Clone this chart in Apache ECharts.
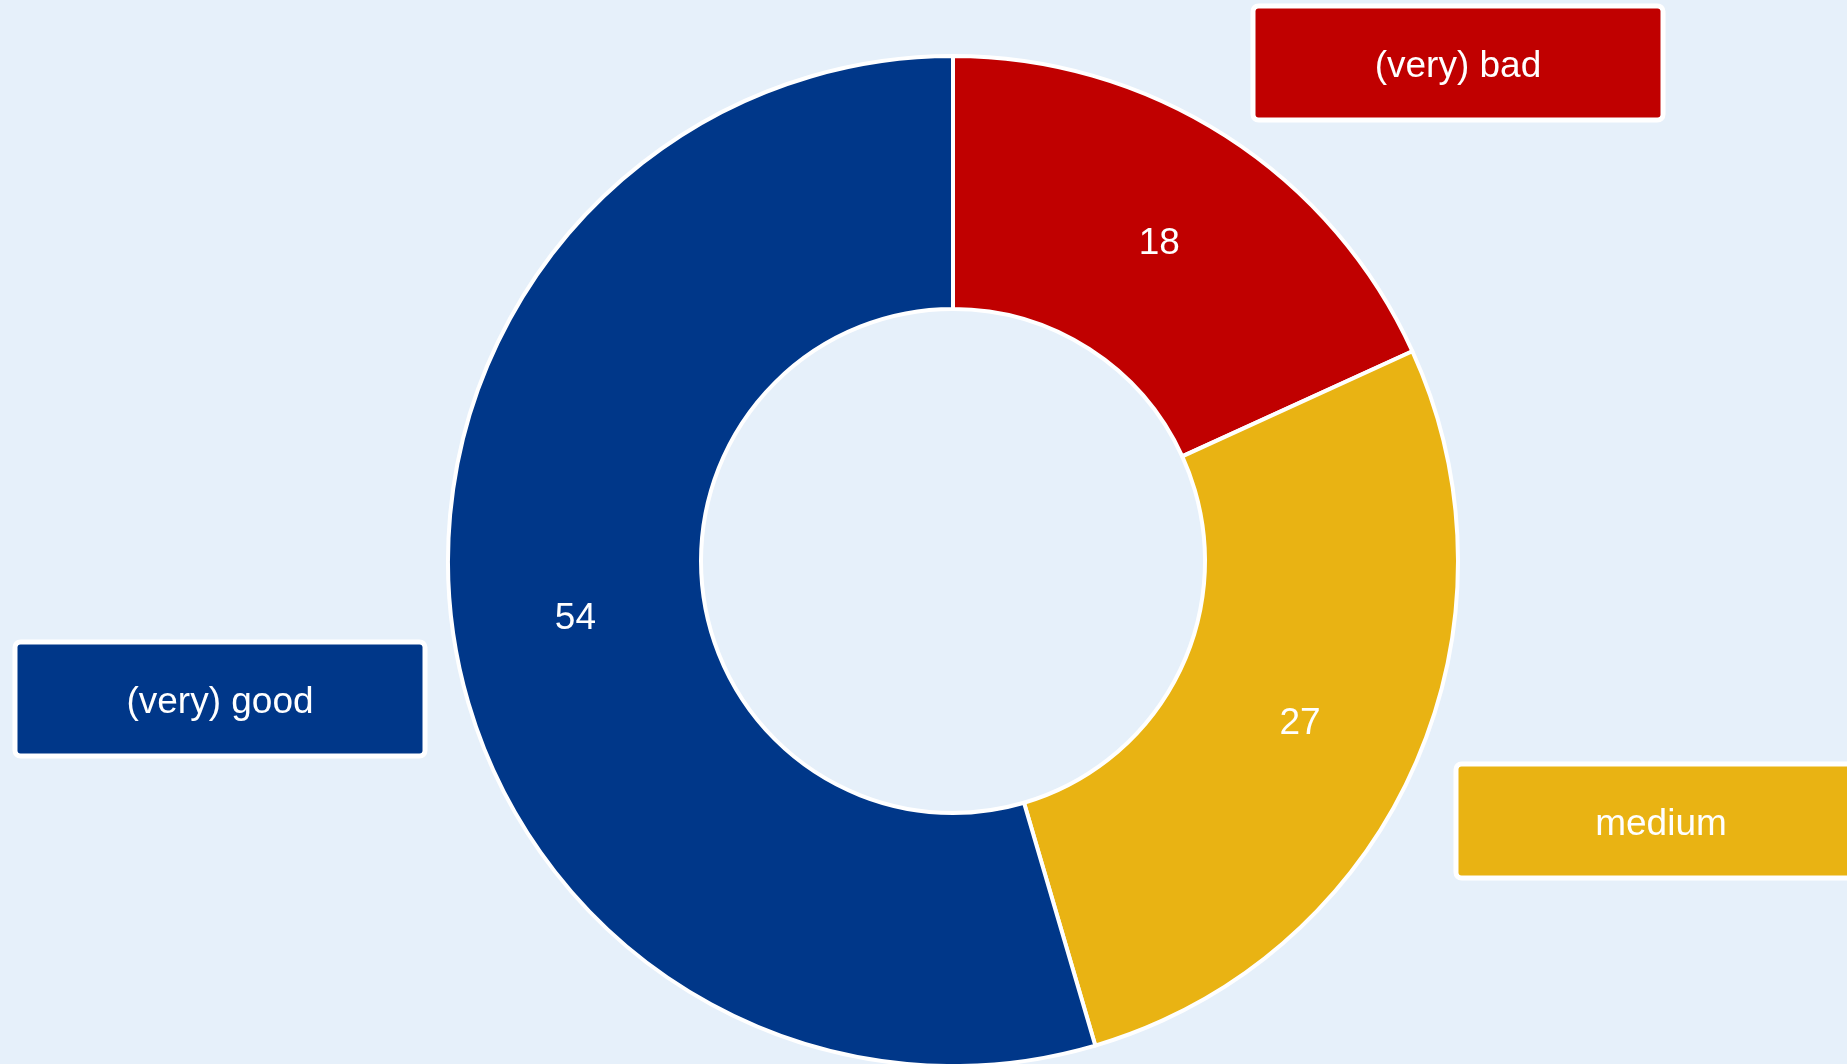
<!DOCTYPE html>
<html>
<head>
<meta charset="utf-8">
<title>Rating donut</title>
<script src="https://cdn.jsdelivr.net/npm/echarts@6/dist/echarts.min.js"></script>
<style>
  html, body { margin: 0; padding: 0; background: #e6f0fa; }
  #chart { width: 1847px; height: 1064px; }
</style>
</head>
<body>
<div id="chart"></div>
<script>
// data
const categories = ['(very) bad', 'medium', '(very) good'];
const values = [18, 27, 54];

const colors = ['#c00000', '#e9b313', '#003789'];
// centre of each name box
const boxPos = [[1458, 63], [1661, 821], [220, 699]];

const FONT = '"Liberation Sans", Arial, sans-serif';

const ringData = categories.map((name, i) => ({
  name: name,
  value: values[i],
  itemStyle: { color: colors[i] }
}));

const nameData = categories.map((name, i) => ({
  name: name,
  value: values[i],
  label: { backgroundColor: colors[i] }
}));

const chart = echarts.init(document.getElementById('chart'));
chart.setOption({
  backgroundColor: '#e6f0fa',
  animation: false,
  series: [
    {
      type: 'pie',
      center: [953, 561],
      radius: [252, 505],
      startAngle: 90,
      clockwise: true,
      itemStyle: {
        borderColor: '#ffffff',
        borderWidth: 4
      },
      label: {
        show: true,
        position: 'inside',
        formatter: '{c}',
        color: '#ffffff',
        fontFamily: FONT,
        fontSize: 37
      },
      labelLayout: function () {
        return { dy: 4 };
      },
      labelLine: { show: false },
      emphasis: { disabled: true },
      data: ringData
    },
    {
      type: 'pie',
      silent: true,
      center: [953, 561],
      radius: [252, 505],
      startAngle: 90,
      itemStyle: { color: 'rgba(0,0,0,0)', borderWidth: 0 },
      label: {
        show: true,
        position: 'outside',
        formatter: '{t|{b}}',
        width: 405,
        align: 'center',
        padding: [4, 0, 5, 0],
        borderColor: '#ffffff',
        borderWidth: 5,
        borderRadius: 3,
        rich: {
          t: {
            color: '#ffffff',
            fontFamily: FONT,
            fontSize: 37,
            lineHeight: 100,
            padding: [8, 0, 0, 0]
          }
        }
      },
      labelLine: { show: false },
      labelLayout: function (params) {
        const p = boxPos[params.dataIndex];
        return { x: p[0], y: p[1], align: 'center', verticalAlign: 'middle' };
      },
      data: nameData
    }
  ]
});
</script>
</body>
</html>
